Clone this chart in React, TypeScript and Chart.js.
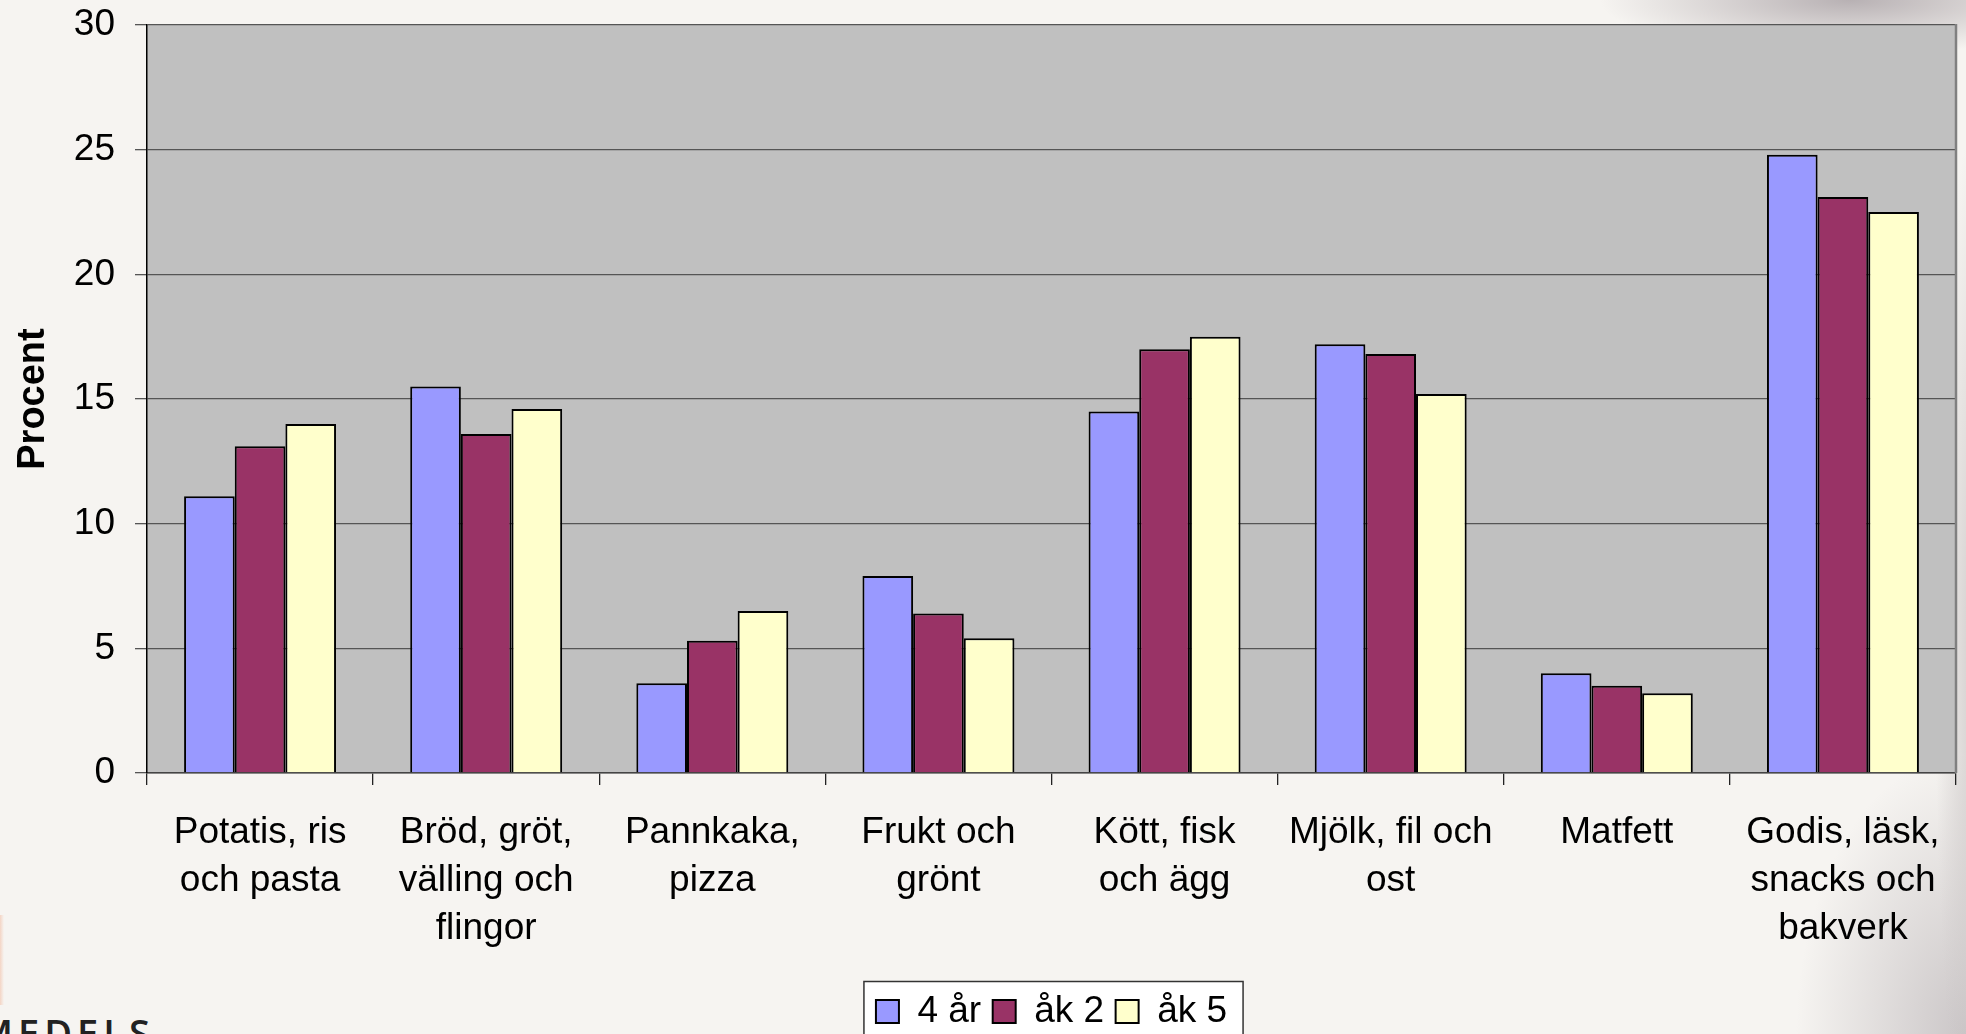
import React, { useEffect, useRef } from "react";
import { Chart, registerables } from "chart.js";

Chart.register(...registerables);

const categories: (string | string[])[] = [
  ["Potatis, ris", "och pasta"],
  ["Bröd, gröt,", "välling och", "flingor"],
  ["Pannkaka,", "pizza"],
  ["Frukt och", "grönt"],
  ["Kött, fisk", "och ägg"],
  ["Mjölk, fil och", "ost"],
  "Matfett",
  ["Godis, läsk,", "snacks och", "bakverk"],
];

const seriesNames = ["4 år", "åk 2", "åk 5"];
const values4ar = [11.1, 15.5, 3.6, 7.9, 14.5, 17.2, 4.0, 24.8];
const valuesAk2 = [13.1, 13.6, 5.3, 6.4, 17.0, 16.8, 3.5, 23.1];
const valuesAk5 = [14.0, 14.6, 6.5, 5.4, 17.5, 15.2, 3.2, 22.5];
const yTicks = [0, 5, 10, 15, 20, 25, 30];
const seriesColors = ["#9999ff", "#993366", "#ffffcc"];
const yTitle = "Procent";

const FONT = "'Liberation Sans', Arial, Helvetica, sans-serif";

const plotDecor = {
  id: "plotDecor",
  beforeDraw(chart: any) {
    const { ctx, chartArea: a } = chart;
    ctx.save();
    ctx.fillStyle = "#c0c0c0";
    ctx.fillRect(a.left, a.top, a.right - a.left, a.bottom - a.top);
    const lg = chart.legend;
    if (lg && lg.legendHitBoxes && lg.legendHitBoxes.length) {
      const hb = lg.legendHitBoxes;
      const last = hb[hb.length - 1];
      const l = hb[0].left - 12;
      const r = last.left + last.width + 16;
      const t = lg.top;
      ctx.fillStyle = "#ffffff";
      ctx.fillRect(l, t, r - l, 200);
      ctx.strokeStyle = "#333333";
      ctx.lineWidth = 1.5;
      ctx.strokeRect(l, t, r - l, 200);
    }
    ctx.restore();
  },
  afterDraw(chart: any) {
    const { ctx, chartArea: a } = chart;
    ctx.save();
    ctx.strokeStyle = "#808080";
    ctx.lineWidth = 2.5;
    ctx.beginPath();
    ctx.moveTo(a.right, a.top - 1);
    ctx.lineTo(a.right, a.bottom);
    ctx.stroke();
    ctx.restore();
  },
};

function BarChart() {
  const ref = useRef<HTMLCanvasElement | null>(null);
  useEffect(() => {
    if (!ref.current) return;
    const seriesValues = [values4ar, valuesAk2, valuesAk5];
    const chart = new Chart(ref.current, {
      type: "bar",
      data: {
        labels: categories,
        datasets: seriesNames.map((name, i) => ({
          label: name,
          data: seriesValues[i],
          backgroundColor: seriesColors[i],
          borderColor: "#000000",
          borderWidth: 2,
          borderSkipped: "start",
          categoryPercentage: 0.672,
          barPercentage: 1,
        })),
      },
      options: {
        responsive: false,
        animation: false,
        devicePixelRatio: 1,
        layout: { padding: { top: 25, right: 10, left: 0, bottom: 0 } },
        plugins: {
          tooltip: { enabled: false },
          legend: {
            display: true,
            position: "bottom",
            fullSize: false,
            labels: {
              color: "#000",
              font: { family: FONT, size: 37 },
              boxWidth: 23,
              boxHeight: 23,
              padding: 11.5,
            },
          },
        },
        scales: {
          x: {
            offset: true,
            grid: {
              offset: true,
              drawOnChartArea: false,
              drawTicks: true,
              tickLength: 12,
              color: "#222",
              lineWidth: 1.3,
            },
            border: { display: true, color: "#444", width: 1.5 },
            ticks: {
              color: "#000",
              font: { family: FONT, size: 37, lineHeight: 1.3 },
              padding: 24,
              autoSkip: false,
              maxRotation: 0,
              minRotation: 0,
            },
            afterFit: (scale: any) => {
              scale.height = 208.5;
            },
          },
          y: {
            min: 0,
            max: 30,
            afterBuildTicks: (scale: any) => {
              scale.ticks = yTicks.map((v) => ({ value: v }));
            },
            grid: {
              color: "#555",
              lineWidth: 1.3,
              tickLength: 12,
              tickColor: "#555",
            },
            border: { display: true, color: "#000", width: 1.5 },
            ticks: {
              color: "#000",
              font: { family: FONT, size: 37 },
              padding: 20,
            },
            title: {
              display: true,
              text: yTitle,
              color: "#000",
              font: { family: FONT, size: 38, weight: "bold" },
              padding: { top: 11, bottom: 0 },
            },
            afterFit: (scale: any) => {
              scale.width = 147;
              scale.paddingTop = 0;
              scale.paddingBottom = 0;
            },
          },
        },
      },
      plugins: [plotDecor],
    } as any);
    return () => chart.destroy();
  }, []);
  return <canvas ref={ref} width={1966} height={1040} style={{ display: "block" }} />;
}

export default function App() {
  return (
    <div
      style={{
        position: "fixed",
        left: 0,
        top: 0,
        width: 1966,
        height: 1034,
        overflow: "hidden",
        backgroundColor: "#f6f4f1",
        backgroundImage: [
          "radial-gradient(ellipse 250px 55px at 1850px 0px, rgba(168,160,164,0.8), rgba(168,160,164,0))",
          "radial-gradient(ellipse 40px 520px at 1975px 650px, rgba(200,195,195,0.8), rgba(200,195,195,0))",
          "radial-gradient(ellipse 170px 280px at 1966px 1034px, rgba(195,190,192,0.85), rgba(195,190,192,0))",
        ].join(","),
      }}
    >
      <div
        style={{
          position: "absolute",
          left: 0,
          top: 915,
          width: 4,
          height: 90,
          background: "linear-gradient(to right, rgba(238,140,95,0.3), rgba(238,140,95,0))",
        }}
      />
      <div
        style={{
          position: "absolute",
          left: -22,
          top: 1013,
          fontFamily: "'Open Sans', 'DejaVu Sans', sans-serif",
          fontWeight: 600,
          fontSize: 38,
          lineHeight: "38px",
          letterSpacing: 5,
          color: "#222",
          whiteSpace: "nowrap",
        }}
      >
        MEDELS
      </div>
      <div style={{ position: "absolute", left: 0, top: 0 }}>
        <BarChart />
      </div>
    </div>
  );
}
